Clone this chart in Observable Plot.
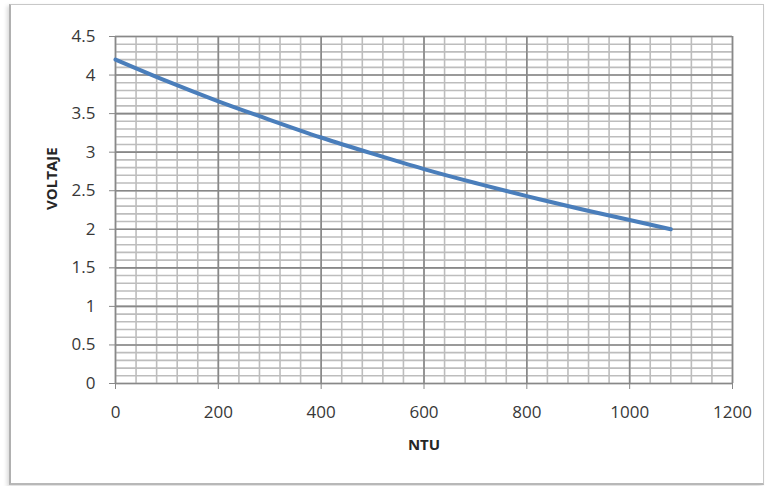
<!DOCTYPE html>
<html>
<head>
<meta charset="utf-8">
<script src="https://cdn.jsdelivr.net/npm/d3@7"></script>
<script src="https://cdn.jsdelivr.net/npm/@observablehq/plot@0.6"></script>
<style>
  html, body { margin: 0; padding: 0; background: #fff; }
  #wrap { position: relative; width: 765px; height: 486px; overflow: hidden; }
  #frame { position: absolute; left: 9px; top: 4px; width: 752px; height: 478px;
           border: 1px solid #c8c8c8; border-left: 2px solid #b0b0b0; border-bottom: 2px solid #b8b8b8;
           box-shadow: -2px 2px 4px rgba(0,0,0,0.15); background: #fff; }
  #chart { position: absolute; left: 0; top: 0; }
</style>
</head>
<body>
<div id="wrap"><div id="frame"></div><div id="chart"></div></div>
<script>
// Data
const ntu     = [0,    100,  200,  300,  400,  500,  600,  700,  800,  900,  1000, 1080];
const voltaje = [4.20, 3.92, 3.66, 3.42, 3.19, 2.98, 2.78, 2.60, 2.43, 2.27, 2.12, 2.00];

// Tick labels
const xTicks = [0, 200, 400, 600, 800, 1000, 1200];
const yTicks = [0, 0.5, 1, 1.5, 2, 2.5, 3, 3.5, 4, 4.5];
const xMinor = d3.range(0, 1200.001, 40);
const yMinor = d3.range(0, 45.001, 1).map(d => d / 10);

const data = ntu.map((x, i) => ({x, y: voltaje[i]}));

const font = "'Open Sans', 'Liberation Sans', sans-serif";

const chart = Plot.plot({
  width: 765,
  height: 486,
  marginLeft: 115,
  marginRight: 33,
  marginTop: 36,
  marginBottom: 103,
  style: {background: "transparent", fontFamily: font, color: "#404040"},
  x: {domain: [0, 1200]},
  y: {domain: [0, 4.5]},
  marks: [
    Plot.ruleX(xMinor, {stroke: "#bdbdbd", strokeWidth: 1.6}),
    Plot.ruleY(yMinor, {stroke: "#bdbdbd", strokeWidth: 1.6}),
    Plot.ruleX(xTicks, {stroke: "#888888", strokeWidth: 1.6}),
    Plot.ruleY(yTicks, {stroke: "#888888", strokeWidth: 1.6}),
    Plot.axisX({ticks: xTicks, tickSize: 6, tickPadding: 16, fontSize: 17, stroke: "#888888", fill: "#383838", label: null, tickFormat: d => String(d)}),
    Plot.axisY({ticks: yTicks, tickSize: 6, tickPadding: 14, fontSize: 17, stroke: "#888888", fill: "#383838", label: null, tickFormat: d => String(d)}),
    Plot.line(data, {x: "x", y: "y", stroke: "#4a7ebb", strokeWidth: 4, curve: "natural"}),
    Plot.text(["NTU"], {frameAnchor: "bottom", dy: 66, fontSize: 15, fontWeight: "bold", fill: "#262626"}),
    Plot.text(["VOLTAJE"], {frameAnchor: "left", dx: -63, rotate: -90, fontSize: 15, fontWeight: "bold", fill: "#262626"})
  ]
});
document.getElementById("chart").appendChild(chart);
</script>
</body>
</html>
